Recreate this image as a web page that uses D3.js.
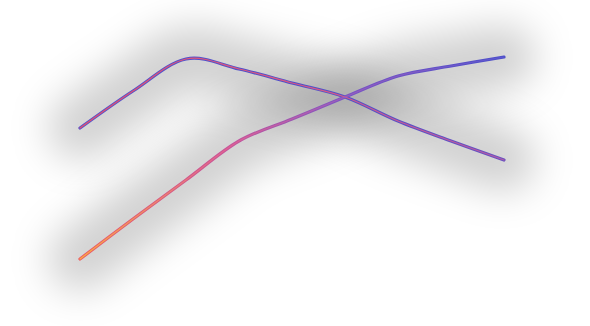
<!DOCTYPE html>
<html>
<head>
<meta charset="utf-8">
<script src="https://cdn.jsdelivr.net/npm/d3@7"></script>
<style>
  html, body { margin: 0; padding: 0; background: #ffffff; }
  svg { display: block; }
</style>
</head>
<body>
<svg id="chart" width="590" height="326"></svg>
<script>
// Nine evenly spaced categories shared by both series
const categories = ["A", "B", "C", "D", "E", "F", "G", "H", "I"];

// Series values
const risingFalling = [172, 209, 241, 231, 217, 203, 179, 159, 140];
const climbing      = [41, 81, 120, 159, 181, 203, 224, 234, 243];

// Value axis extent (no axis is drawn)
const valueDomain = [0, 250];

const series = [
  {
    name: "risingFalling",
    values: risingFalling,
    outer: [["0%", "#5653cc"], ["60%", "#5050c8"], ["100%", "#6a52c0"]],
    inner: [["0%", "#e8506a"], ["60%", "#d45a88"], ["100%", "#b25aa8"]]
  },
  {
    name: "climbing",
    values: climbing,
    outer: [["0%", "#ec5a64"], ["35%", "#c6559c"], ["62%", "#7a55c4"], ["100%", "#4c4ec8"]],
    inner: [["0%", "#fab040"], ["35%", "#e26290"], ["62%", "#9a5cbc"], ["100%", "#5e58d0"]]
  }
];

const svg = d3.select("#chart");
const width = 590, height = 326;
const margin = { left: 80, right: 86, top: 50, bottom: 26 };

const x = d3.scalePoint()
  .domain(categories)
  .range([margin.left, width - margin.right]);

const y = d3.scaleLinear()
  .domain(valueDomain)
  .range([height - margin.bottom, margin.top]);

const line = d3.line()
  .x((d, i) => x(categories[i]))
  .y(d => y(d))
  .curve(d3.curveCardinal.tension(0));

const defs = svg.append("defs");

// Soft drop shadow under each line
defs.append("filter")
  .attr("id", "haze")
  .attr("filterUnits", "userSpaceOnUse")
  .attr("x", -150).attr("y", -150)
  .attr("width", width + 300).attr("height", height + 300)
  .append("feGaussianBlur")
  .attr("stdDeviation", 19);

// Horizontal colour ramps along each line
function addGradient(id, stops) {
  const g = defs.append("linearGradient")
    .attr("id", id)
    .attr("gradientUnits", "userSpaceOnUse")
    .attr("x1", x.range()[0]).attr("y1", 0)
    .attr("x2", x.range()[1]).attr("y2", 0);
  g.selectAll("stop")
    .data(stops)
    .join("stop")
    .attr("offset", d => d[0])
    .attr("stop-color", d => d[1]);
}

series.forEach(s => {
  addGradient(s.name + "-outer", s.outer);
  addGradient(s.name + "-inner", s.inner);
});

// Shadows first, each blurred on its own so overlaps darken
svg.append("g")
  .selectAll("path")
  .data(series)
  .join("path")
  .attr("d", s => line(s.values))
  .attr("fill", "none")
  .attr("stroke", "#000")
  .attr("stroke-opacity", 0.18)
  .attr("stroke-width", 64)
  .attr("stroke-linecap", "round")
  .attr("stroke-linejoin", "round")
  .attr("filter", "url(#haze)");

// Lines: a wider outer stroke with a thin bright core
const lines = svg.append("g");
lines.selectAll("path.outer")
  .data(series)
  .join("path")
  .attr("class", "outer")
  .attr("d", s => line(s.values))
  .attr("fill", "none")
  .attr("stroke", s => `url(#${s.name}-outer)`)
  .attr("stroke-width", 3.2)
  .attr("stroke-linecap", "round");

lines.selectAll("path.inner")
  .data(series)
  .join("path")
  .attr("class", "inner")
  .attr("d", s => line(s.values))
  .attr("fill", "none")
  .attr("stroke", s => `url(#${s.name}-inner)`)
  .attr("stroke-width", 1.2)
  .attr("stroke-linecap", "round");
</script>
</body>
</html>
